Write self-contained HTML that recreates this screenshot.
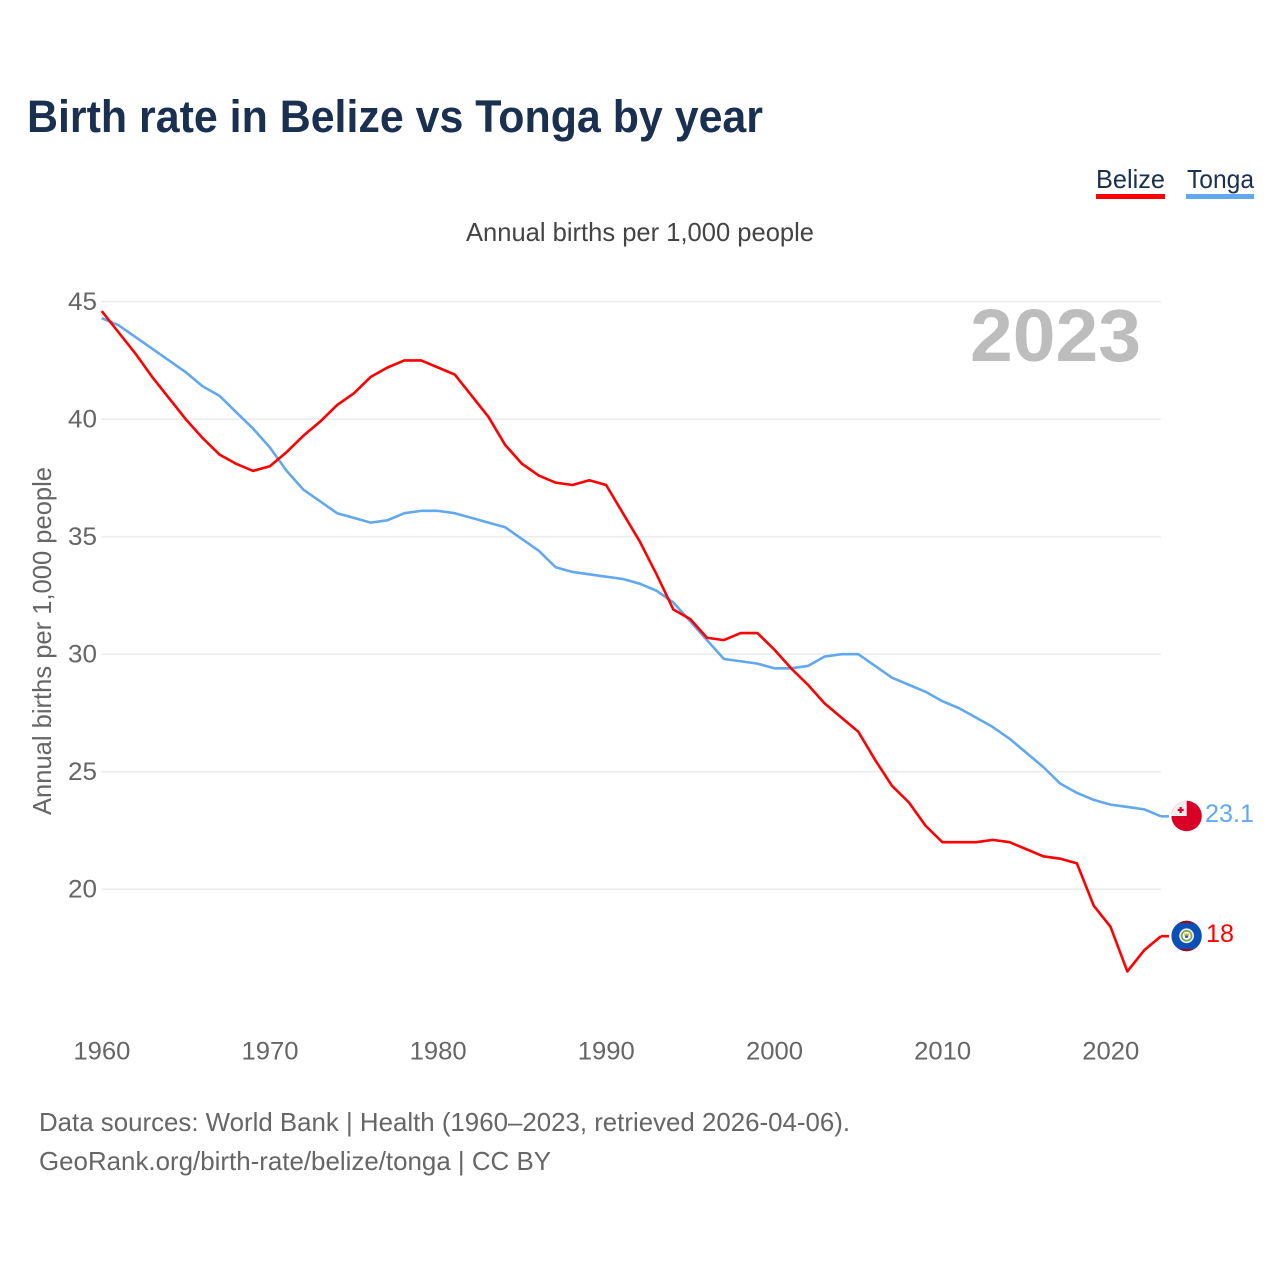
<!DOCTYPE html>
<html lang="en">
<head>
<meta charset="utf-8">
<title>Birth rate in Belize vs Tonga by year</title>
<style>
html,body{margin:0;padding:0;background:#fff;}
svg{display:block;font-family:"Liberation Sans",sans-serif;}
</style>
</head>
<body>
<svg id="chart" xmlns="http://www.w3.org/2000/svg" width="1280" height="1280" viewBox="0 0 1280 1280">
  <defs>
    <clipPath id="clip-tonga"><circle cx="1186.6" cy="816" r="15.2"/></clipPath>
    <clipPath id="clip-belize"><circle cx="1186.6" cy="936" r="15.2"/></clipPath>
  </defs>
  <rect x="0" y="0" width="1280" height="1280" fill="#ffffff"/>
  <text x="27" y="132" font-size="45" font-weight="700" fill="#1a3050" textLength="736" lengthAdjust="spacingAndGlyphs">Birth rate in Belize vs Tonga by year</text>

  <g>
    <text x="1096" y="188" font-size="26" fill="#1a3050" textLength="69" lengthAdjust="spacingAndGlyphs">Belize</text>
    <rect x="1096" y="194" width="69" height="5" fill="#ff0000"/>
  </g>
  <g>
    <text x="1187" y="188" font-size="26" fill="#1a3050" textLength="67" lengthAdjust="spacingAndGlyphs">Tonga</text>
    <rect x="1186" y="194" width="68" height="5" fill="#62a8ee"/>
  </g>

  <text x="466" y="241" font-size="26" fill="#444444" textLength="348" lengthAdjust="spacingAndGlyphs">Annual births per 1,000 people</text>
  <text transform="translate(51,815) rotate(-90)" x="0" y="0" font-size="26" fill="#666666" textLength="348" lengthAdjust="spacingAndGlyphs">Annual births per 1,000 people</text>

  <g id="grid-layer"></g>
  <g id="y-tick-layer"></g>
  <g id="x-tick-layer"></g>

  <text x="970" y="361" font-size="74" font-weight="700" fill="#bdbdbd" textLength="171" lengthAdjust="spacingAndGlyphs">2023</text>

  <g id="series-layer"></g>

  <g id="flag-tonga" clip-path="url(#clip-tonga)">
    <rect x="1171" y="800" width="31" height="32" fill="#d80027"/>
    <rect x="1171" y="800" width="15.7" height="16" fill="#eeeeee"/>
    <rect x="1179.6" y="807" width="2.2" height="6" fill="#d80027"/>
    <rect x="1177.7" y="808.9" width="6" height="2.2" fill="#d80027"/>
  </g>
  <g id="flag-belize" clip-path="url(#clip-belize)">
    <rect x="1171" y="920" width="31" height="32" fill="#0a4fb5"/>
    <rect x="1171" y="920" width="31" height="3" fill="#a2001d"/>
    <rect x="1171" y="949" width="31" height="3" fill="#a2001d"/>
    <circle cx="1186.6" cy="935.8" r="7.4" fill="#eeeeee"/>
    <circle cx="1186.6" cy="935.8" r="4.9" fill="#ffffff" stroke="#7fa650" stroke-width="1.7"/>
    <rect x="1184.2" y="933.6" width="4.8" height="2" fill="#e0b020"/>
    <rect x="1185" y="935.6" width="3.2" height="2.2" fill="#2060b0"/>
  </g>

  <text id="end-label-tonga" x="1205" y="822" font-size="25" fill="#62a8ee" textLength="49" lengthAdjust="spacingAndGlyphs">23.1</text>
  <text id="end-label-belize" x="1206" y="942" font-size="25" fill="#ff0000" textLength="28" lengthAdjust="spacingAndGlyphs">18</text>

  <text x="39" y="1131" font-size="26" fill="#666666" textLength="811" lengthAdjust="spacingAndGlyphs">Data sources: World Bank | Health (1960–2023, retrieved 2026-04-06).</text>
  <text x="39" y="1170" font-size="26" fill="#666666" textLength="512" lengthAdjust="spacingAndGlyphs">GeoRank.org/birth-rate/belize/tonga | CC BY</text>
</svg>

<script>
const startYear = 1960;
const yTickValues = [45, 40, 35, 30, 25, 20];
const xTickValues = [1960, 1970, 1980, 1990, 2000, 2010, 2020];
const belizeValues = [
  44.6, 43.7, 42.8, 41.8, 40.9, 40.0, 39.2, 38.5, 38.1, 37.8,
  38.0, 38.6, 39.3, 39.9, 40.6, 41.1, 41.8, 42.2, 42.5, 42.5,
  42.2, 41.9, 41.0, 40.1, 38.9, 38.1, 37.6, 37.3, 37.2, 37.4,
  37.2, 36.0, 34.8, 33.4, 31.9, 31.5, 30.7, 30.6, 30.9, 30.9,
  30.2, 29.4, 28.7, 27.9, 27.3, 26.7, 25.5, 24.4, 23.7, 22.7,
  22.0, 22.0, 22.0, 22.1, 22.0, 21.7, 21.4, 21.3, 21.1, 19.3,
  18.4, 16.5, 17.4, 18.0
];
const tongaValues = [
  44.3, 44.0, 43.5, 43.0, 42.5, 42.0, 41.4, 41.0, 40.3, 39.6,
  38.8, 37.8, 37.0, 36.5, 36.0, 35.8, 35.6, 35.7, 36.0, 36.1,
  36.1, 36.0, 35.8, 35.6, 35.4, 34.9, 34.4, 33.7, 33.5, 33.4,
  33.3, 33.2, 33.0, 32.7, 32.2, 31.4, 30.6, 29.8, 29.7, 29.6,
  29.4, 29.4, 29.5, 29.9, 30.0, 30.0, 29.5, 29.0, 28.7, 28.4,
  28.0, 27.7, 27.3, 26.9, 26.4, 25.8, 25.2, 24.5, 24.1, 23.8,
  23.6, 23.5, 23.4, 23.1
];

const SVG_NS = 'http://www.w3.org/2000/svg';
const PLOT_LEFT = 101.7;
const PLOT_RIGHT = 1161;
const PX_PER_YEAR = 16.814;
const PX_PER_UNIT = 23.5;
const Y_AT_45 = 301.7;
const STUB_END = 1169;

function xScale(year) {
  return PLOT_LEFT + (year - startYear) * PX_PER_YEAR;
}
function yScale(value) {
  return Y_AT_45 + (45 - value) * PX_PER_UNIT;
}
function make(tag, attrs) {
  const el = document.createElementNS(SVG_NS, tag);
  for (const key in attrs) el.setAttribute(key, attrs[key]);
  return el;
}

const gridLayer = document.getElementById('grid-layer');
const yTickLayer = document.getElementById('y-tick-layer');
const xTickLayer = document.getElementById('x-tick-layer');
const seriesLayer = document.getElementById('series-layer');

yTickValues.forEach(function (value) {
  const line = make('line', {
    x1: PLOT_LEFT, x2: PLOT_RIGHT, y1: yScale(value), y2: yScale(value),
    stroke: '#ececec', 'stroke-width': 1.6
  });
  
  
  gridLayer.appendChild(line);

  const label = make('text', {
    x: 68, y: yScale(value) + 8.3, 'font-size': 25, fill: '#666666',
    textLength: 29, lengthAdjust: 'spacingAndGlyphs'
  });
  
  
  label.textContent = String(value);
  yTickLayer.appendChild(label);
});

xTickValues.forEach(function (year) {
  const label = make('text', {
    x: xScale(year) - 28.3, y: 1059.5, 'font-size': 25, fill: '#666666',
    textLength: 57, lengthAdjust: 'spacingAndGlyphs'
  });
  
  
  label.textContent = String(year);
  xTickLayer.appendChild(label);
});

function drawSeries(values, color, name) {
  const points = values.map(function (value, i) {
    return xScale(startYear + i).toFixed(2) + ',' + yScale(value).toFixed(2);
  }).join(' ');
  const line = make('polyline', {
    points: points, fill: 'none', stroke: color, 'stroke-width': 2.6,
    'stroke-linejoin': 'round', 'stroke-linecap': 'butt'
  });
  
  
  seriesLayer.appendChild(line);

  const lastY = yScale(values[values.length - 1]);
  const stub = make('line', {
    x1: xScale(startYear + values.length - 1), x2: STUB_END, y1: lastY, y2: lastY,
    stroke: color, 'stroke-width': 2.6
  });
  
  
  seriesLayer.appendChild(stub);
}

drawSeries(tongaValues, '#62a8ee', 'tonga');
drawSeries(belizeValues, '#ff0000', 'belize');
</script>
</body>
</html>
